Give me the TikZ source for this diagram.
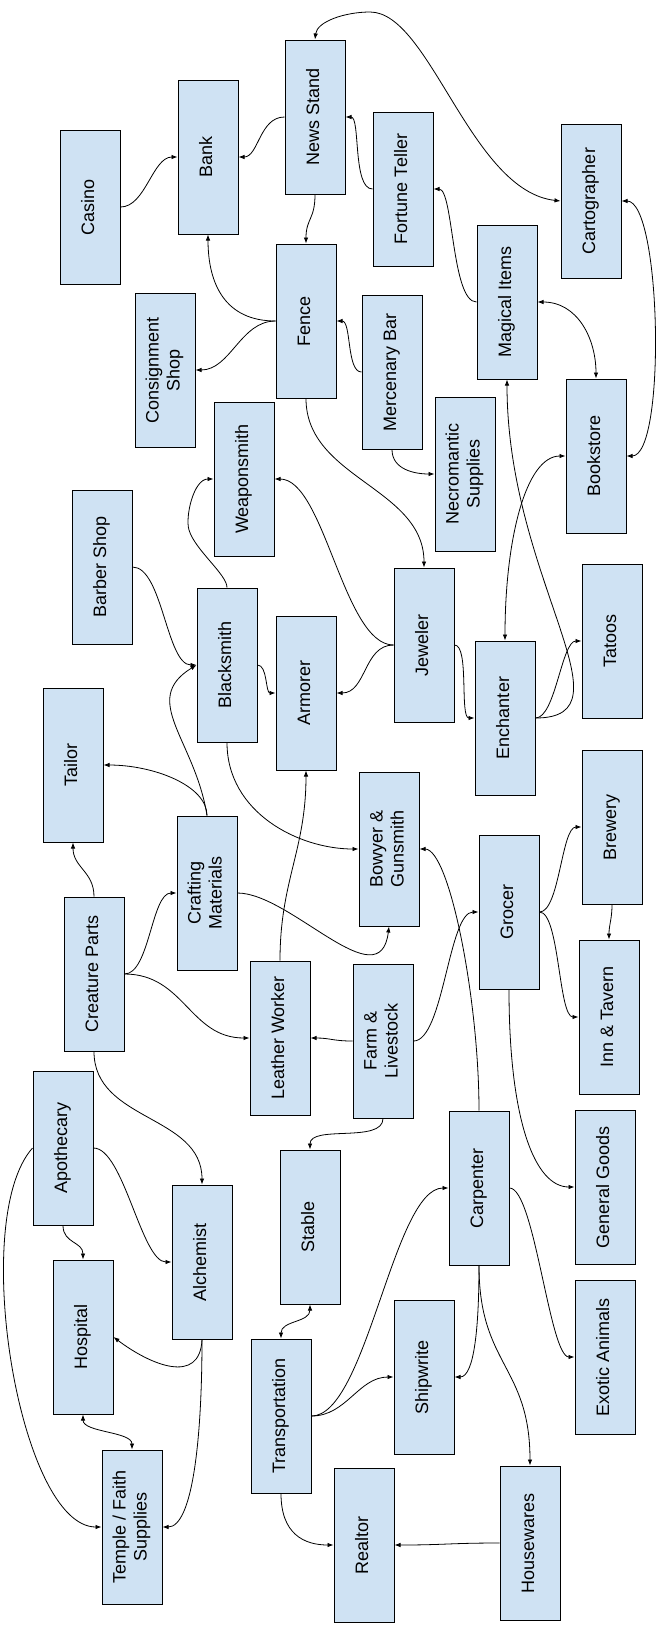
\documentclass[tikz,border=0pt]{standalone}
\usepackage{fontspec}
\setmainfont{Liberation Sans}
\usepackage{graphicx}
\usetikzlibrary{arrows.meta}
\definecolor{shopblue}{HTML}{CFE2F3}
\tikzset{>={Latex[length=6pt,width=4.5pt]}}
\tikzset{
  shop/.style={draw, fill=shopblue, line width=1pt, minimum width=60pt, minimum height=154pt, inner sep=0pt, font=\fontsize{18}{21}\selectfont},
  link/.style={line width=0.8pt}
}
\newcommand{\vlabel}[1]{\rotatebox{90}{\begin{tabular}{@{}c@{}}#1\end{tabular}}}

\begin{document}
\begin{tikzpicture}[x=1pt,y=-1pt]
\useasboundingbox (0,0) rectangle (662,1634);
\node[shop] (newsstand) at (315,117) {\vlabel{News Stand}};
\node[shop] (bank) at (208,157) {\vlabel{Bank}};
\node[shop] (casino) at (90,207) {\vlabel{Casino}};
\node[shop] (fortune) at (403,189) {\vlabel{Fortune Teller}};
\node[shop] (carto) at (591,201) {\vlabel{Cartographer}};
\node[shop] (fence) at (306,321) {\vlabel{Fence}};
\node[shop] (consign) at (165,370) {\vlabel{Consignment\\Shop}};
\node[shop] (merc) at (392,372) {\vlabel{Mercenary Bar}};
\node[shop] (magic) at (507,302) {\vlabel{Magical Items}};
\node[shop] (bookstore) at (596,456) {\vlabel{Bookstore}};
\node[shop] (weapon) at (244,479) {\vlabel{Weaponsmith}};
\node[shop] (necro) at (465,474) {\vlabel{Necromantic\\Supplies}};
\node[shop] (barber) at (102,567) {\vlabel{Barber Shop}};
\node[shop] (blacksmith) at (227,665) {\vlabel{Blacksmith}};
\node[shop] (armorer) at (306,693) {\vlabel{Armorer}};
\node[shop] (jeweler) at (424,645) {\vlabel{Jeweler}};
\node[shop] (enchanter) at (505,718) {\vlabel{Enchanter}};
\node[shop] (tatoos) at (612,641) {\vlabel{Tatoos}};
\node[shop] (tailor) at (73,765) {\vlabel{Tailor}};
\node[shop] (bowyer) at (389,849) {\vlabel{Bowyer \&\\Gunsmith}};
\node[shop] (brewery) at (612,827) {\vlabel{Brewery}};
\node[shop] (crafting) at (207,893) {\vlabel{Crafting\\Materials}};
\node[shop] (creature) at (94,974) {\vlabel{Creature Parts}};
\node[shop] (leather) at (280,1038) {\vlabel{Leather Worker}};
\node[shop] (farm) at (383,1041) {\vlabel{Farm \&\\Livestock}};
\node[shop] (grocer) at (509,912) {\vlabel{Grocer}};
\node[shop] (inn) at (609,1017) {\vlabel{Inn \& Tavern}};
\node[shop] (apothecary) at (63,1148) {\vlabel{Apothecary}};
\node[shop] (alchemist) at (202,1262) {\vlabel{Alchemist}};
\node[shop] (stable) at (310,1227) {\vlabel{Stable}};
\node[shop] (carpenter) at (479,1188) {\vlabel{Carpenter}};
\node[shop] (general) at (605,1187) {\vlabel{General Goods}};
\node[shop] (hospital) at (83,1337) {\vlabel{Hospital}};
\node[shop] (temple) at (132,1527) {\vlabel{Temple / Faith\\Supplies}};
\node[shop] (transport) at (281,1416) {\vlabel{Transportation}};
\node[shop] (shipwrite) at (424,1377) {\vlabel{Shipwrite}};
\node[shop] (exotic) at (605,1357) {\vlabel{Exotic Animals}};
\node[shop] (realtor) at (364,1545) {\vlabel{Realtor}};
\node[shop] (housewares) at (530,1543) {\vlabel{Housewares}};

\draw[link,<->] (newsstand.north) .. controls +(2,-18) and +(-25,0) .. (370,12) .. controls +(60,0) and +(-90,-10) .. (carto.west);
\draw[link,->] (newsstand.west) .. controls +(-25,0) and +(20,0) .. (bank.east);
\draw[link,->] (casino.east) .. controls +(25,0) and +(-25,0) .. (bank.west);
\draw[link,->] (fortune.west) .. controls +(-20,0) and +(15,0) .. (newsstand.east);
\draw[link,->] (newsstand.south) .. controls +(0,25) and +(0,-25) .. (fence.north);
\draw[link,->] (magic.west) .. controls +(-25,0) and +(20,0) .. (fortune.east);
\draw[link,->] (fence.west) .. controls +(-50,0) and +(0,50) .. (bank.south);
\draw[link,->] (fence.west) .. controls +(-35,0) and +(35,0) .. (consign.east);
\draw[link,->] (merc.west) .. controls +(-15,0) and +(15,0) .. (fence.east);
\draw[link,<->] (magic.east) .. controls +(40,0) and +(0,-40) .. (bookstore.north);
\draw[link,<->] (carto.east) .. controls +(40,0) and +(40,0) .. (bookstore.east);
\draw[link,->] (fence.south) .. controls +(0,80) and +(0,-80) .. (jeweler.north);
\draw[link,->] (enchanter.east) .. controls +(100,0) and +(0,200) .. (magic.south);
\draw[link,<->] (enchanter.north) .. controls +(0,-100) and +(-40,0) .. (bookstore.west);
\draw[link,->] (merc.south) .. controls +(0,20) and +(-20,0) .. (necro.west);
\draw[link,->] (jeweler.west) .. controls +(-50,0) and +(50,0) .. (weapon.east);
\draw[link,->] (jeweler.west) .. controls +(-30,0) and +(30,0) .. (armorer.east);
\draw[link,->] (jeweler.east) .. controls +(15,0) and +(-15,0) .. (enchanter.west);
\draw[link,->] (enchanter.east) .. controls +(20,0) and +(-20,0) .. (tatoos.west);
\draw[link,->] (blacksmith.north) .. controls +(0,-13) and +(6,20) .. (189,530) .. controls +(-4,-13) and +(-20,0) .. (weapon.west);
\draw[link,->] (barber.east) .. controls +(30,0) and +(-30,0) .. (blacksmith.west);
\draw[link,->] (blacksmith.east) .. controls +(10,0) and +(-10,0) .. (armorer.west);
\draw[link,->] (crafting.north) .. controls +(-12,-76) and +(-57,35) .. (blacksmith.west);
\draw[link,->] (crafting.north) .. controls +(0,-30) and +(50,0) .. (tailor.east);
\draw[link,->] (blacksmith.south) .. controls +(0,70) and +(-60,0) .. (bowyer.west);
\draw[link,->] (leather.north) .. controls +(0,-80) and +(0,80) .. (armorer.south);
\draw[link,->] (creature.north) .. controls +(0,-25) and +(0,25) .. (tailor.south);
\draw[link,->] (creature.east) .. controls +(25,0) and +(-25,0) .. (crafting.west);
\draw[link,->] (creature.east) .. controls +(60,0) and +(-60,0) .. (leather.west);
\draw[link,->] (crafting.east) .. controls +(53,0) and +(-9,74) .. (bowyer.south);
\draw[link,->] (farm.west) .. controls +(-20,0) and +(20,0) .. (leather.east);
\draw[link,->] (farm.east) .. controls +(30,0) and +(-30,0) .. (grocer.west);
\draw[link,->] (carpenter.north) .. controls +(0,-111) and +(30,0) .. (bowyer.east);
\draw[link,->] (grocer.east) .. controls +(20,0) and +(-20,0) .. (brewery.west);
\draw[link,->] (grocer.east) .. controls +(20,0) and +(-20,0) .. (inn.west);
\draw[link,->] (brewery.south) .. controls +(0,15) and +(0,-15) .. (inn.north);
\draw[link,->] (grocer.south) .. controls +(0,130) and +(-40,0) .. (general.west);
\draw[link,->] (farm.south) .. controls +(0,25) and +(0,-25) .. (stable.north);
\draw[link,->] (creature.south) .. controls +(0,70) and +(0,-70) .. (alchemist.north);
\draw[link,->] (apothecary.east) .. controls +(30,0) and +(-30,0) .. (alchemist.west);
\draw[link,->] (apothecary.west) .. controls +(-64,72) and +(-82,0) .. (temple.west);
\draw[link,->] (transport.east) .. controls +(55,0) and +(-55,0) .. (carpenter.west);
\draw[link,->] (carpenter.east) .. controls +(25,0) and +(-25,0) .. (exotic.west);
\draw[link,->] (apothecary.south) .. controls +(0,18) and +(0,-18) .. (hospital.north);
\draw[link,->] (alchemist.south) .. controls +(-2,46) and +(37,28) .. (hospital.east);
\draw[link,->] (alchemist.south) .. controls +(0,100) and +(30,0) .. (temple.east);
\draw[link,<->] (hospital.south) .. controls +(0,18) and +(0,-18) .. (temple.north);
\draw[link,<->] (stable.south) .. controls +(0,18) and +(0,-18) .. (transport.north);
\draw[link,->] (transport.east) .. controls +(35,0) and +(-35,0) .. (shipwrite.west);
\draw[link,->] (carpenter.south) .. controls +(0,60) and +(20,0) .. (shipwrite.east);
\draw[link,->] (carpenter.south) .. controls +(0,100) and +(0,-100) .. (housewares.north);
\draw[link,->] (transport.south) .. controls +(0,40) and +(-30,0) .. (realtor.west);
\draw[link,->] (housewares.west) .. controls +(-50,0) and +(50,0) .. (realtor.east);
\end{tikzpicture}
\end{document}
